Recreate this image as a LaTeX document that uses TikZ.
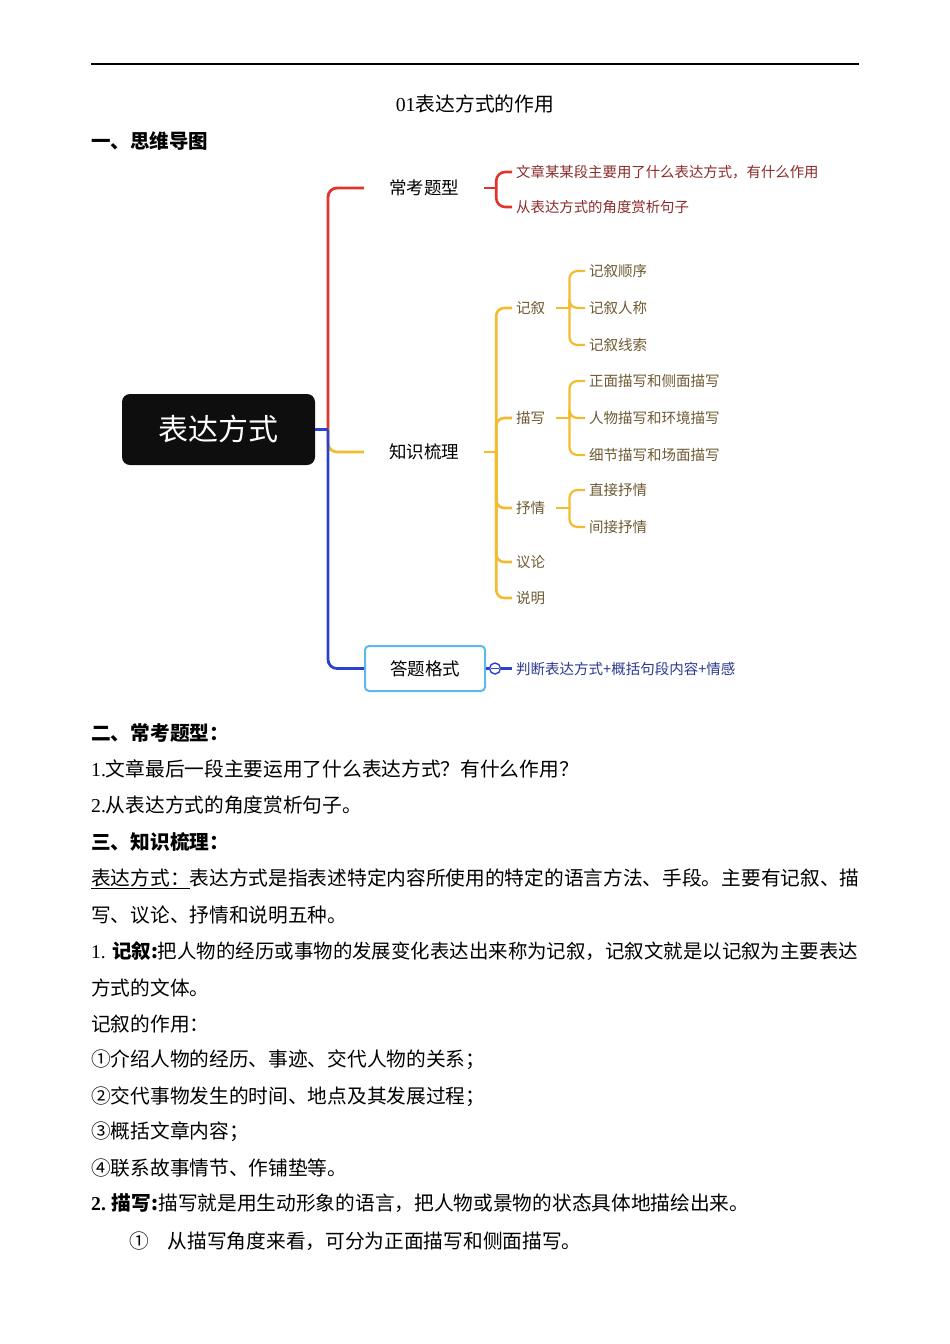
\documentclass[tikz,border=0pt]{standalone}
\usepackage{fontspec}
\setmainfont{Noto Sans CJK SC}
\newfontfamily\lat{Liberation Serif}
\definecolor{mmred}{HTML}{E0352B}
\definecolor{mmyel}{HTML}{F2BC2E}
\definecolor{mmblue}{HTML}{2B41CF}
\definecolor{mmsky}{HTML}{5CB9EE}
\definecolor{txred}{HTML}{8B2B2B}
\definecolor{txyel}{HTML}{6E5A33}
\definecolor{txblue}{HTML}{2D3990}
\tikzset{
  body/.style={anchor=west, inner sep=0pt, font=\fontsize{19.7}{24}\selectfont},
  lvlone/.style={minimum width=120pt, minimum height=45pt, inner sep=0pt, font=\fontsize{17.5}{20}\selectfont},
  leafred/.style={anchor=west, inner xsep=4pt, inner ysep=2pt, text=txred, font=\fontsize{14.4}{17}\selectfont},
  leafyel/.style={anchor=west, inner xsep=4pt, inner ysep=2pt, text=txyel, font=\fontsize{14.5}{17}\selectfont},
  leafblue/.style={anchor=west, inner xsep=4pt, inner ysep=2pt, text=txblue, font=\fontsize{14.5}{17}\selectfont},
  rline/.style={draw=mmred, line width=2.8pt, rounded corners=9pt},
  yline/.style={draw=mmyel, line width=2.8pt, rounded corners=9pt},
  ysub/.style={draw=mmyel, line width=2.2pt, rounded corners=8pt},
  bline/.style={draw=mmblue, line width=2.8pt, rounded corners=9pt},
}
\begin{document}
\begin{tikzpicture}[x=1pt,y=-1pt]
\fill[white] (0,0) rectangle (950,1344);
\useasboundingbox (0,0) rectangle (950,1344);

% header
\coordinate (ruleL) at (91,64);
\coordinate (ruleR) at (859,64);
\draw[line width=1.5pt] (ruleL) -- (ruleR);
\node[inner sep=0pt, font=\fontsize{19.8}{24}\selectfont] (title) at (475,104) {{\lat 01}表达方式的作用};
\node[body, font=\fontsize{19.5}{24}\selectfont\bfseries] (h1) at (91,141) {一、思维导图};

% mind map
\node[fill={rgb,255:red,14;green,14;blue,14}, rounded corners=8pt, minimum width=193pt, minimum height=71pt, inner sep=0pt, text=white, font=\fontsize{30}{34}\selectfont] (root) at (218.5,429.5) {表达方式};
\coordinate (hub) at (328,429.5);

\node[lvlone] (ck) at (424,188) {常考题型};
\node[lvlone] (zs) at (424,452) {知识梳理};
\node[lvlone, draw=mmsky, line width=2pt, rounded corners=4pt] (dt) at (425,668.5) {答题格式};

\draw[yline] (hub) |- (zs.west);
\draw[rline] (hub) |- (ck.west);
\draw[bline] (root.east) -- (hub);
\draw[bline] (hub) |- (dt.west);

% 常考题型 children
\node[leafred] (ck1) at (512,172) {文章某某段主要用了什么表达方式，有什么作用};
\node[leafred] (ck2) at (512,207) {从表达方式的角度赏析句子};
\coordinate (ckb) at ([xshift=12pt]ck.east);
\draw[rline, line width=2.6pt] (ck.east) -- (ckb);
\draw[rline, line width=2.6pt] (ckb) |- (ck1.west);
\draw[rline, line width=2.6pt] (ckb) |- (ck2.west);

% 知识梳理 children
\node[leafyel] (jx) at (512,308) {记叙};
\node[leafyel] (ms) at (512,418) {描写};
\node[leafyel] (sq) at (512,508) {抒情};
\node[leafyel] (yl) at (512,562) {议论};
\node[leafyel] (sm) at (512,598) {说明};
\coordinate (zsb) at ([xshift=12pt]zs.east);
\draw[yline, line width=2.6pt] (zs.east) -- (zsb);
\foreach \c in {jx,ms,sq,yl,sm} { \draw[ysub, line width=2.6pt] (zsb) |- (\c.west); }

% 记叙 children
\node[leafyel] (jx1) at (585,271) {记叙顺序};
\node[leafyel] (jx2) at (585,308) {记叙人称};
\node[leafyel] (jx3) at (585,345) {记叙线索};
\coordinate (jxb) at ([xshift=20pt]jx.east);
\draw[ysub] ([xshift=7pt]jx.east) -- (jxb);
\foreach \c in {jx1,jx2,jx3} { \draw[ysub] (jxb) |- (\c.west); }

% 描写 children
\node[leafyel] (ms1) at (585,381) {正面描写和侧面描写};
\node[leafyel] (ms2) at (585,418) {人物描写和环境描写};
\node[leafyel] (ms3) at (585,455) {细节描写和场面描写};
\coordinate (msb) at ([xshift=20pt]ms.east);
\draw[ysub] ([xshift=7pt]ms.east) -- (msb);
\foreach \c in {ms1,ms2,ms3} { \draw[ysub] (msb) |- (\c.west); }

% 抒情 children
\node[leafyel] (sq1) at (585,490) {直接抒情};
\node[leafyel] (sq2) at (585,527) {间接抒情};
\coordinate (sqb) at ([xshift=20pt]sq.east);
\draw[ysub] ([xshift=7pt]sq.east) -- (sqb);
\foreach \c in {sq1,sq2} { \draw[ysub] (sqb) |- (\c.west); }

% 答题格式 child
\node[circle, draw=mmblue, line width=1.4pt, minimum size=11pt, inner sep=0pt] (col) at (495,668.5) {};
\draw[mmblue, line width=1.2pt] ([xshift=2.5pt]col.west) -- ([xshift=-2.5pt]col.east);
\node[leafblue] (dt1) at (512,668.5) {判断表达方式+概括句段内容+情感};
\draw[bline, line width=2.4pt] (dt.east) -- (col.west);
\draw[bline, line width=2.4pt] (col.east) -- (dt1.west);

% body text
\node[body, font=\fontsize{19.7}{24}\selectfont\bfseries] (h2) at (91,733) {二、常考题型：};
\node[body] (l1) at (91,769) {{\lat 1.}文章最后一段主要运用了什么表达方式？有什么作用？};
\node[body] (l2) at (91,805) {{\lat 2.}从表达方式的角度赏析句子。};
\node[body, font=\fontsize{19.7}{24}\selectfont\bfseries] (h3) at (91,842) {三、知识梳理：};
\node[body] (l3) at (91,879) {\underline{表达方式：}表达方式是指表述特定内容所使用的特定的语言方法、手段。主要有记叙、描};
\node[body] (l4) at (91,915) {写、议论、抒情和说明五种。};
\node[body, font=\fontsize{19.45}{24}\selectfont] (l5) at (91,951) {{\lat 1. }{\bfseries 记叙:}把人物的经历或事物的发展变化表达出来称为记叙，记叙文就是以记叙为主要表达};
\node[body] (l6) at (91,988) {方式的文体。};
\node[body] (l7) at (91,1024) {记叙的作用：};
\node[body] (l8) at (91,1060) {①介绍人物的经历、事迹、交代人物的关系；};
\node[body] (l9) at (91,1097) {②交代事物发生的时间、地点及其发展过程；};
\node[body] (l10) at (91,1132) {③概括文章内容；};
\node[body] (l11) at (91,1168) {④联系故事情节、作铺垫等。};
\node[body] (l12) at (91,1203) {{\bfseries {\lat 2.} 描写:}描写就是用生动形象的语言，把人物或景物的状态具体地描绘出来。};
\node[body] (l13) at (129,1241) {①\hspace{19pt}从描写角度来看，可分为正面描写和侧面描写。};
\end{tikzpicture}
\end{document}
